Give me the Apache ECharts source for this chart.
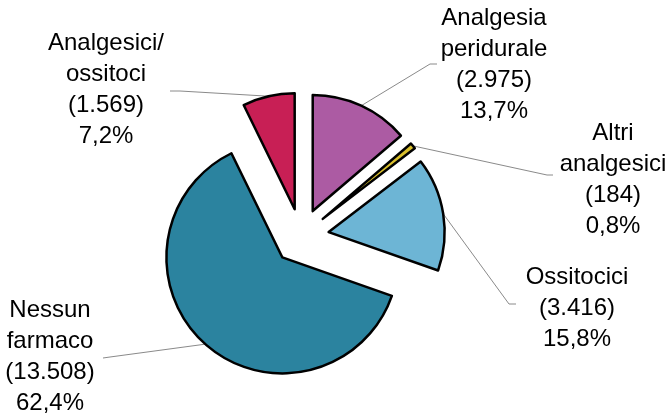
<!DOCTYPE html>
<html><head><meta charset="utf-8">
<script src="https://cdn.jsdelivr.net/npm/echarts@6/dist/echarts.min.js"></script>
<style>html,body{margin:0;padding:0;background:#fff}#c{width:670px;height:417px}</style>
</head><body><div id="c"></div>
<script>
// ---- data ----
const categories = ['Analgesia\nperidurale', 'Altri\nanalgesici', 'Ossitocici', 'Nessun\nfarmaco', 'Analgesici/\nossitoci'];
const counts = [2975, 184, 3416, 13508, 1569];
const countLabels = ['(2.975)', '(184)', '(3.416)', '(13.508)', '(1.569)'];
const percentLabels = ['13,7%', '0,8%', '15,8%', '62,4%', '7,2%'];

// ---- styles / layout ----
const colors = ['#AC5BA3', '#D9BF2D', '#6DB5D5', '#2B839F', '#C81F55'];
const CENTER = [301, 236.5];
const RADIUS = 116;
const EXPLODE = 28;
const labelPlacement = [
  {x: 494, y: 65,  line: [[430, 64], [437, 64]]},
  {x: 613, y: 180, line: [[547, 175], [553, 175]]},
  {x: 577, y: 308, line: [[509, 304], [516, 304]]},
  {x: 50,  y: 357, line: [[110, 357], [103, 358]]},
  {x: 106, y: 90,  line: [[180, 91], [170, 91]]}
];

const total = counts.reduce((a, b) => a + b, 0);
let cum = 0;
const series = counts.map((v, i) => {
  const mid = (cum + v / 2) / total * Math.PI * 2;
  cum += v;
  const cx = CENTER[0] + EXPLODE * Math.sin(mid);
  const cy = CENTER[1] - EXPLODE * Math.cos(mid);
  const start = [cx + RADIUS * Math.sin(mid), cy - RADIUS * Math.cos(mid)];
  return {
    type: 'pie',
    center: [cx, cy],
    radius: RADIUS,
    startAngle: 90,
    clockwise: true,
    silent: true,
    animation: false,
    avoidLabelOverlap: false,
    label: {
      position: 'outside',
      fontFamily: 'Liberation Sans, Arial, sans-serif',
      fontSize: 24,
      lineHeight: 31,
      color: '#000',
      align: 'center',
      formatter: p => categories[p.dataIndex] + '\n' + countLabels[p.dataIndex] + '\n' + percentLabels[p.dataIndex]
    },
    labelLine: {show: true, length: 20, length2: 10, lineStyle: {color: '#8a8a8a', width: 1}},
    labelLayout: params => {
      if (params.dataIndex !== i) return {};
      const p = labelPlacement[i];
      return {x: p.x, y: p.y, align: 'center', verticalAlign: 'middle',
              labelLinePoints: [start, p.line[0], p.line[1]]};
    },
    data: counts.map((val, j) => ({
      value: val,
      name: categories[j],
      itemStyle: j === i ? {color: colors[j], borderColor: '#000', borderWidth: 2.5}
                         : {color: 'rgba(0,0,0,0)', borderWidth: 0},
      label: {show: j === i},
      labelLine: {show: j === i}
    }))
  };
});

const chart = echarts.init(document.getElementById('c'), null, {renderer: 'canvas'});
chart.setOption({backgroundColor: '#fff', animation: false, series});
</script>
</body></html>
